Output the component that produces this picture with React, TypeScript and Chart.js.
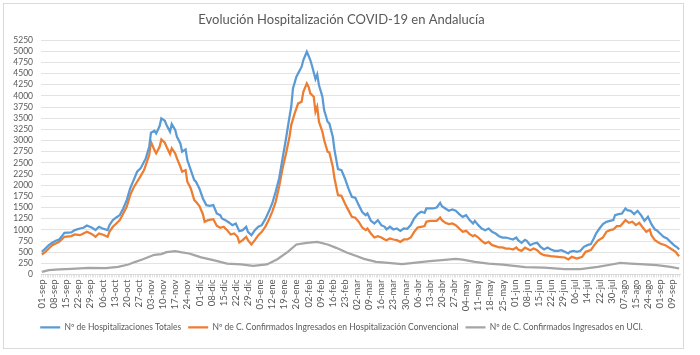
import React, { useEffect, useRef } from 'react';
import { Chart, registerables } from 'chart.js';

Chart.register(...registerables);

const TITLE = 'Evolución Hospitalización COVID-19 en Andalucía';
const SERIES_NAMES = [
  'Nº de Hospitalizaciones Totales',
  'Nº de C. Confirmados Ingresados en Hospitalización Convencional',
  'Nº de C. Confirmados Ingresados en UCI.',
];

// one tick label every 7 categories
const TICK_LABELS = [
  '01-sep', '08-sep', '15-sep', '22-sep', '29-sep', '06-oct', '13-oct', '20-oct', '27-oct',
  '03-nov', '10-nov', '17-nov', '24-nov', '01-dic', '08-dic', '15-dic', '22-dic', '29-dic',
  '05-ene', '12-ene', '19-ene', '26-ene', '02-feb', '09-feb', '16-feb', '23-feb', '02-mar',
  '09-mar', '16-mar', '23-mar', '30-mar', '06-abr', '13-abr', '20-abr', '27-abr', '04-may',
  '11-may', '18-may', '25-may', '01-jun', '08-jun', '15-jun', '22-jun', '29-jun', '06-jul',
  '14-jul', '22-jul', '30-jul', '07-ago', '15-ago', '24-ago', '01-sep', '09-sep',
];
const LABEL_EVERY = 7;
const CATEGORY_COUNT = 369;

const Y_MAX = 5250;
const Y_STEP = 250;

// [category index, value]
const totalHosp: [number, number][] = [
  [0, 508], [2, 583], [4, 657], [6, 710], [8, 754], [10, 784], [12, 881], [13, 934], [17, 941], [19, 993],
  [22, 1030], [24, 1046], [26, 1098], [29, 1046], [31, 993], [33, 1068], [35, 1030], [38, 993], [39, 1105],
  [41, 1217], [43, 1277], [45, 1330], [47, 1479], [49, 1665], [51, 1927], [53, 2114], [55, 2300], [57, 2375],
  [59, 2524], [60, 2599], [62, 2860], [63, 3174], [65, 3219], [66, 3159], [68, 3323], [69, 3495], [71, 3443],
  [72, 3346], [74, 3196], [75, 3368], [77, 3234], [78, 3084], [80, 2935], [81, 2749], [83, 2801], [84, 2562],
  [86, 2338], [88, 2114], [89, 2076], [91, 1920], [93, 1703], [95, 1553], [97, 1538], [99, 1553], [101, 1366],
  [103, 1329], [104, 1254], [106, 1217], [108, 1165], [110, 1105], [112, 1142], [114, 970], [116, 993],
  [118, 1068], [119, 955], [121, 880], [123, 993], [125, 1068], [127, 1105], [129, 1239], [131, 1403],
  [133, 1590], [135, 1851], [137, 2150], [139, 2598], [141, 3046], [143, 3532], [144, 3756], [145, 4167],
  [147, 4428], [149, 4578], [150, 4652], [151, 4802], [153, 4988], [154, 4899], [155, 4802], [156, 4675],
  [158, 4376], [159, 4481], [160, 4242], [162, 3980], [163, 3682], [165, 3420], [166, 3383], [168, 3084],
  [169, 2785], [171, 2360], [173, 2337], [175, 2150], [177, 1926], [179, 1740], [181, 1717], [183, 1553],
  [185, 1400], [187, 1329], [188, 1366], [190, 1202], [192, 1142], [194, 1217], [196, 1105], [198, 1068],
  [199, 1008], [201, 1068], [203, 1008], [205, 1030], [207, 978], [209, 1030], [211, 1023], [213, 1105],
  [215, 1254], [217, 1351], [219, 1404], [221, 1381], [222, 1478], [224, 1478], [226, 1478], [228, 1501],
  [230, 1605], [231, 1530], [233, 1478], [235, 1426], [237, 1456], [239, 1426], [241, 1351], [243, 1291],
  [245, 1329], [247, 1217], [249, 1142], [250, 1202], [252, 1105], [254, 1030], [256, 993], [258, 1030],
  [260, 955], [262, 918], [264, 858], [266, 828], [268, 828], [270, 806], [272, 784], [274, 828], [275, 769],
  [277, 709], [279, 776], [280, 754], [282, 657], [284, 694], [286, 709], [288, 619], [290, 560], [292, 605],
  [294, 560], [296, 530], [298, 530], [300, 545], [302, 508], [304, 470], [305, 508], [307, 530], [309, 508],
  [311, 530], [313, 619], [315, 657], [317, 679], [319, 828], [320, 918], [322, 1030], [324, 1127], [326, 1180],
  [328, 1202], [330, 1217], [331, 1329], [333, 1351], [335, 1366], [337, 1478], [338, 1441], [340, 1426],
  [342, 1351], [344, 1426], [346, 1329], [348, 1202], [350, 1291], [352, 1127], [354, 1008], [355, 993],
  [357, 918], [359, 843], [361, 806], [363, 731], [365, 657], [367, 605], [368, 560],
];

const convHosp: [number, number][] = [
  [0, 448], [2, 508], [4, 583], [6, 657], [8, 695], [10, 732], [12, 807], [13, 844], [17, 859], [19, 896],
  [22, 881], [24, 918], [26, 956], [29, 904], [31, 844], [33, 918], [35, 896], [38, 844], [39, 956], [41, 1068],
  [43, 1143], [45, 1217], [47, 1367], [49, 1516], [51, 1777], [53, 1949], [55, 2076], [57, 2203], [59, 2338],
  [60, 2450], [62, 2674], [63, 2972], [65, 2786], [66, 2711], [68, 2860], [69, 3025], [71, 2950], [72, 2860],
  [74, 2696], [75, 2823], [77, 2711], [78, 2599], [80, 2412], [81, 2300], [83, 2338], [84, 2076], [86, 1927],
  [88, 1665], [89, 1628], [91, 1530], [93, 1350], [94, 1180], [96, 1217], [99, 1239], [101, 1090], [103, 1045],
  [105, 1068], [107, 993], [109, 896], [111, 918], [113, 844], [114, 717], [116, 769], [118, 844], [119, 769],
  [121, 672], [123, 769], [125, 881], [127, 955], [129, 1068], [131, 1217], [133, 1403], [135, 1627],
  [137, 1963], [139, 2374], [141, 2710], [143, 3084], [144, 3345], [146, 3607], [148, 3831], [150, 3868],
  [151, 4092], [153, 4279], [154, 4204], [155, 4055], [157, 3980], [158, 3644], [159, 3756], [160, 3420],
  [162, 3196], [163, 3009], [165, 2748], [166, 2733], [168, 2412], [169, 2150], [171, 1777], [173, 1762],
  [175, 1590], [177, 1441], [179, 1292], [181, 1270], [183, 1180], [185, 1050], [187, 993], [188, 1030],
  [190, 918], [192, 828], [194, 858], [196, 828], [198, 784], [199, 769], [201, 806], [203, 784], [205, 769],
  [207, 731], [209, 784], [211, 784], [213, 828], [215, 955], [217, 1053], [219, 1068], [221, 1083], [222, 1180],
  [224, 1202], [226, 1202], [228, 1202], [230, 1277], [231, 1217], [233, 1157], [235, 1127], [237, 1142],
  [239, 1105], [241, 1030], [243, 955], [245, 978], [247, 903], [249, 858], [250, 881], [252, 828], [254, 754],
  [256, 694], [258, 731], [260, 657], [262, 635], [264, 605], [266, 605], [268, 582], [270, 582], [272, 560],
  [274, 605], [275, 560], [277, 530], [279, 600], [282, 545], [284, 582], [286, 545], [288, 470], [290, 433],
  [294, 411], [298, 396], [302, 381], [304, 336], [306, 396], [309, 358], [312, 396], [314, 508], [317, 545],
  [319, 657], [321, 754], [324, 828], [326, 955], [328, 993], [330, 1008], [332, 1083], [334, 1083],
  [337, 1217], [339, 1157], [341, 1180], [343, 1105], [345, 1157], [347, 1053], [349, 955], [351, 1008],
  [352, 881], [354, 769], [357, 694], [360, 657], [363, 582], [366, 508], [367, 455], [368, 411],
];

const uciHosp: [number, number][] = [
  [0, 60], [4, 97], [10, 112], [17, 127], [27, 149], [37, 142], [44, 172], [50, 224], [54, 284], [58, 336],
  [62, 396], [65, 441], [69, 456], [72, 500], [77, 523], [81, 493], [85, 470], [88, 433], [92, 385], [99, 320],
  [107, 246], [115, 224], [122, 194], [130, 224], [136, 343], [142, 507], [147, 672], [153, 709], [159, 731],
  [165, 672], [170, 597], [176, 492], [182, 410], [186, 350], [193, 283], [200, 261], [208, 231], [216, 268],
  [224, 298], [231, 320], [239, 350], [243, 335], [250, 283], [258, 246], [266, 223], [274, 186], [279, 165],
  [290, 156], [302, 119], [311, 119], [321, 171], [329, 224], [334, 261], [340, 246], [348, 224], [355, 209],
  [363, 171], [368, 134],
];

const COLORS = ['#5B9BD5', '#ED7D31', '#A5A5A5'];
const TEXT = '#595959';
const GRID = '#D9D9D9';
const FONT = 'Lato, "Liberation Sans", sans-serif';

const frame = {
  id: 'frame',
  beforeDraw(chart: any) {
    const ctx = chart.ctx;
    ctx.save();
    ctx.fillStyle = '#ffffff';
    ctx.fillRect(0, 0, chart.width, chart.height);
    ctx.strokeStyle = GRID;
    ctx.lineWidth = 1;
    ctx.strokeRect(3.5, 3.5, 680, 345);
    ctx.restore();
  },
};

export default function App() {
  const ref = useRef<HTMLCanvasElement | null>(null);

  useEffect(() => {
    document.body.style.margin = '0';
    if (!ref.current) return;
    const series = [totalHosp, convHosp, uciHosp];
    const chart = new Chart(ref.current, {
      type: 'line',
      data: {
        datasets: series.map((s, i) => ({
          label: SERIES_NAMES[i],
          data: s.map(([x, y]) => ({ x, y })),
          borderColor: COLORS[i],
          backgroundColor: COLORS[i],
          borderWidth: 2.25,
          pointRadius: 0,
          tension: 0,
          fill: false,
        })),
      },
      options: {
        animation: false,
        responsive: false,
        maintainAspectRatio: false,
        layout: { padding: { left: 3, right: 20, top: 0, bottom: 13.5 } },
        plugins: {
          title: {
            display: true,
            text: TITLE,
            color: TEXT,
            font: { family: FONT, size: 13, weight: 'normal' },
            padding: { top: 12, bottom: 12.4 },
          },
          legend: {
            position: 'bottom',
            labels: {
              usePointStyle: true,
              pointStyle: 'line',
              pointStyleWidth: 20,
              color: TEXT,
              font: { family: FONT, size: 8.5 },
              padding: 7,
            },
          },
          tooltip: { enabled: false },
        },
        scales: {
          x: {
            type: 'linear',
            min: -0.5,
            max: CATEGORY_COUNT - 0.5,
            afterBuildTicks: (scale: any) => {
              scale.ticks = Array.from({ length: CATEGORY_COUNT }, (_, i) => ({ value: i }));
            },
            afterFit: (scale: any) => {
              scale.height = 41.5;
            },
            ticks: {
              autoSkip: false,
              maxRotation: 90,
              minRotation: 90,
              padding: 2,
              color: TEXT,
              font: { family: FONT, size: 9.5 },
              callback: (v: any) => {
                const n = Number(v);
                return n % LABEL_EVERY === 0 ? TICK_LABELS[n / LABEL_EVERY] ?? '' : '';
              },
            },
            grid: { drawOnChartArea: false, drawTicks: true, tickLength: 3, color: GRID, lineWidth: 0.75 },
            border: { color: GRID },
          },
          y: {
            min: 0,
            max: Y_MAX,
            afterFit: (scale: any) => {
              scale.width = 38;
            },
            ticks: {
              stepSize: Y_STEP,
              autoSkip: false,
              padding: 8,
              color: TEXT,
              font: { family: FONT, size: 8.5 },
              callback: (v: any) => String(v),
            },
            grid: { color: GRID, lineWidth: 0.75, drawTicks: false },
            border: { display: false },
          },
        },
      },
      plugins: [frame],
    } as any);
    return () => chart.destroy();
  }, []);

  return (
    <div style={{ position: 'fixed', left: 0, top: 0, width: 700, height: 355 }}>
      <canvas ref={ref} width={700} height={355} style={{ display: 'block' }} />
    </div>
  );
}
